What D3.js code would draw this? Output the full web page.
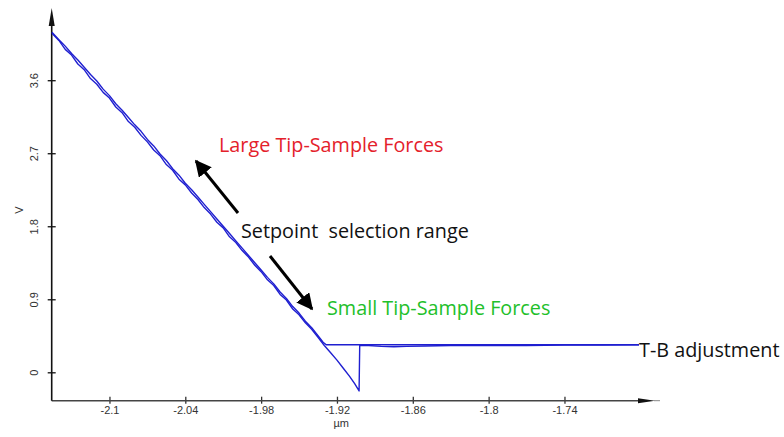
<!DOCTYPE html>
<html>
<head>
<meta charset="utf-8">
<script src="https://cdn.jsdelivr.net/npm/d3@7"></script>
<style>
  body { margin: 0; background: #fff; }
  svg { display: block; }
  .axis text { font-family: "Liberation Sans", Arial, sans-serif; font-size: 11px; fill: #333; }
  .note { font-family: "Open Sans", "Noto Sans", sans-serif; font-size: 19.8px; }
</style>
</head>
<body>
<div id="chart"></div>
<script>
// tick values
var xTicks = [-2.1, -2.04, -1.98, -1.92, -1.86, -1.8, -1.74];
var yTicks = [0, 0.9, 1.8, 2.7, 3.6];

// extend trace: down the contact slope, dip, snap back up, then free line
var extendTrace = [
    [-2.1455, 4.18], [-2.140, 4.09], [-2.135, 3.98], [-2.130, 3.91], [-2.125, 3.80],
    [-2.120, 3.73], [-2.115, 3.62], [-2.110, 3.55], [-2.105, 3.45], [-2.100, 3.38],
    [-2.095, 3.27], [-2.090, 3.20], [-2.085, 3.09], [-2.080, 3.02], [-2.075, 2.92],
    [-2.070, 2.84], [-2.065, 2.74], [-2.060, 2.67], [-2.055, 2.56], [-2.050, 2.49],
    [-2.045, 2.38], [-2.040, 2.31], [-2.035, 2.21], [-2.030, 2.13], [-2.025, 2.03],
    [-2.020, 1.95], [-2.015, 1.85], [-2.010, 1.78], [-2.005, 1.67], [-2.000, 1.60],
    [-1.995, 1.50], [-1.990, 1.42], [-1.985, 1.32], [-1.980, 1.24], [-1.975, 1.14],
    [-1.970, 1.07], [-1.965, 0.96], [-1.960, 0.89], [-1.955, 0.78], [-1.950, 0.71],
    [-1.945, 0.61], [-1.940, 0.53], [-1.935, 0.43], [-1.930, 0.33], [-1.925, 0.24],
    [-1.920, 0.15], [-1.915, 0.05], [-1.910, -0.05], [-1.906, -0.14], [-1.9025, -0.23],
    [-1.9020, 0.33], [-1.895, 0.33], [-1.885, 0.32], [-1.875, 0.315], [-1.865, 0.32],
    [-1.850, 0.325], [-1.830, 0.33], [-1.800, 0.33], [-1.770, 0.33], [-1.740, 0.335],
    [-1.710, 0.335], [-1.681, 0.34]
];

// retract trace: free line back to the kink, then up the slope
var retractTrace = [
    [-1.681, 0.34], [-1.720, 0.34], [-1.760, 0.34], [-1.800, 0.34], [-1.840, 0.34],
    [-1.880, 0.34], [-1.910, 0.34], [-1.9285, 0.34], [-1.931, 0.37], [-1.935, 0.45],
    [-1.940, 0.55], [-1.945, 0.63], [-1.950, 0.73], [-1.955, 0.81], [-1.960, 0.91],
    [-1.965, 0.99], [-1.970, 1.09], [-1.975, 1.17], [-1.980, 1.26], [-1.985, 1.35],
    [-1.990, 1.44], [-1.995, 1.53], [-2.000, 1.62], [-2.005, 1.71], [-2.010, 1.80],
    [-2.015, 1.89], [-2.020, 1.98], [-2.025, 2.07], [-2.030, 2.16], [-2.035, 2.25],
    [-2.040, 2.33], [-2.045, 2.43], [-2.050, 2.51], [-2.055, 2.61], [-2.060, 2.69],
    [-2.065, 2.79], [-2.070, 2.87], [-2.075, 2.97], [-2.080, 3.05], [-2.085, 3.14],
    [-2.090, 3.23], [-2.095, 3.31], [-2.100, 3.41], [-2.105, 3.49], [-2.110, 3.59],
    [-2.115, 3.67], [-2.120, 3.76], [-2.125, 3.85], [-2.130, 3.93], [-2.135, 4.02],
    [-2.140, 4.10], [-2.1455, 4.19]
];

var W = 784, H = 437;
var svg = d3.select("#chart").append("svg")
    .attr("width", W)
    .attr("height", H);

var x = d3.scaleLinear().domain([-2.1457, -1.666]).range([51.7, 658]);
var y = d3.scaleLinear().domain([-0.35, 4.49]).range([400.7, 8]);

// x axis
var xAxis = d3.axisBottom(x).tickValues(xTicks).tickSize(4).tickFormat(function(d) { return d; });
var gx = svg.append("g")
    .attr("class", "axis x-axis")
    .attr("transform", "translate(0," + y(-0.35) + ")")
    .call(xAxis);
gx.select(".domain").remove();
gx.selectAll(".tick line").attr("y1", -4).attr("y2", 3).attr("stroke", "#333").attr("stroke-width", 1.3);
gx.selectAll(".tick text").attr("y", 6);
gx.append("line")
    .attr("x1", x(-2.1457)).attr("x2", 640)
    .attr("stroke", "#444").attr("stroke-width", 1.6);
gx.append("path")
    .attr("d", "M638,-2.5 L655,0 L638,2.5 Z")
    .attr("fill", "#111");
gx.append("line")
    .attr("x1", 654).attr("x2", 660)
    .attr("stroke", "#888").attr("stroke-width", 1);
gx.append("text")
    .attr("x", x(-1.9167)).attr("y", 26)
    .attr("text-anchor", "middle")
    .text("\u00b5m");

// y axis
var yAxis = d3.axisLeft(y).tickValues(yTicks).tickSize(4).tickFormat(function(d) { return d; });
var gy = svg.append("g")
    .attr("class", "axis y-axis")
    .attr("transform", "translate(" + x(-2.1457) + ",0)")
    .call(yAxis);
gy.select(".domain").remove();
gy.selectAll(".tick line").attr("x1", -4).attr("x2", 4).attr("stroke", "#111").attr("stroke-width", 1.3);
gy.selectAll(".tick text")
    .attr("x", 0).attr("y", 0).attr("dy", 0)
    .attr("text-anchor", "middle")
    .attr("transform", "translate(-14,0) rotate(-90)");
gy.append("line")
    .attr("y1", y(-0.35)).attr("y2", 24)
    .attr("stroke", "#111").attr("stroke-width", 1.6);
gy.append("path")
    .attr("d", "M-3,26 L0,8 L3,26 Z")
    .attr("fill", "#111");
gy.append("text")
    .attr("transform", "translate(-29," + y(2.0) + ") rotate(-90)")
    .attr("text-anchor", "middle")
    .text("V");

// traces
var line = d3.line()
    .x(function(d) { return x(d[0]); })
    .y(function(d) { return y(d[1]); });

svg.selectAll(".trace")
    .data([extendTrace, retractTrace])
    .enter().append("path")
    .attr("class", "trace")
    .attr("d", line)
    .attr("fill", "none")
    .attr("stroke", "#1f1fd0")
    .attr("stroke-width", 1.4)
    .attr("stroke-linejoin", "round");

// annotations
svg.append("defs").append("marker")
    .attr("id", "head")
    .attr("viewBox", "0 0 10 10")
    .attr("refX", 9).attr("refY", 5)
    .attr("markerWidth", 5.5).attr("markerHeight", 5.5)
    .attr("markerUnits", "strokeWidth")
    .attr("orient", "auto")
    .append("path")
    .attr("d", "M0,0 L10,5 L0,10 Z")
    .attr("fill", "#000");

svg.append("line")
    .attr("x1", 238).attr("y1", 213).attr("x2", 196).attr("y2", 161)
    .attr("stroke", "#000").attr("stroke-width", 3)
    .attr("marker-end", "url(#head)");
svg.append("line")
    .attr("x1", 270).attr("y1", 256).attr("x2", 312).attr("y2", 309)
    .attr("stroke", "#000").attr("stroke-width", 3)
    .attr("marker-end", "url(#head)");

svg.append("text").attr("class", "note")
    .attr("x", 219).attr("y", 152)
    .attr("fill", "#e4212b")
    .text("Large Tip-Sample Forces");
svg.append("text").attr("class", "note")
    .attr("x", 241).attr("y", 238)
    .attr("fill", "#111")
    .attr("xml:space", "preserve")
    .style("white-space", "pre")
    .text("Setpoint  selection range");
svg.append("text").attr("class", "note")
    .attr("x", 327).attr("y", 315)
    .attr("fill", "#22c02a")
    .text("Small Tip-Sample Forces");
svg.append("text").attr("class", "note")
    .attr("x", 639).attr("y", 357)
    .attr("fill", "#111")
    .text("T-B adjustment");
</script>
</body>
</html>
